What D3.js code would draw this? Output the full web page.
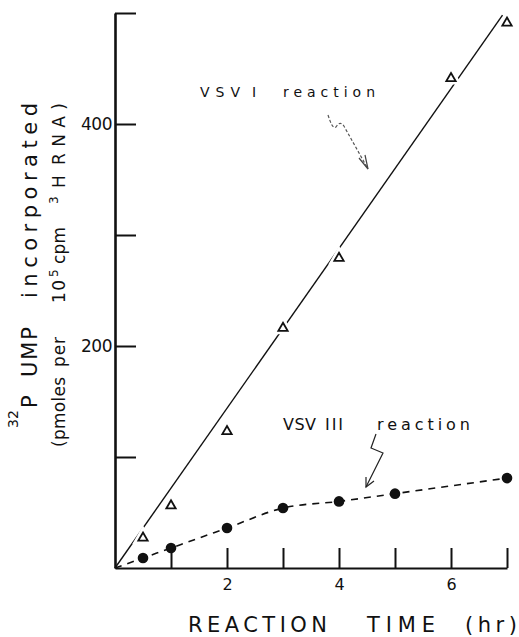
<!DOCTYPE html>
<html>
<head>
<meta charset="utf-8">
<script src="https://cdn.jsdelivr.net/npm/d3@7"></script>
<style>
  body { margin: 0; background: #fff; }
  text { font-family: "DejaVu Sans", sans-serif; fill: #111; }
</style>
</head>
<body>
<div id="canvas"></div>
<script>
const canvas = d3.select("#canvas");

// VSV I (open triangles)
const vsv1Hours = [0.5, 1, 2, 3, 4, 6, 7];
const vsv1Ump = [28, 57, 124, 217, 280, 442, 492];
// fitted straight line drawn through VSV I
const vsv1LineHours = [0, 6.92];
const vsv1LineUmp = [0, 498];

// VSV III (filled circles)
const vsv3Hours = [0.5, 1, 2, 3, 4, 5, 7];
const vsv3Ump = [9, 18, 36, 54, 60, 67, 81];

const xTicks = [1, 2, 3, 4, 5, 6, 7];
const xTickLabels = [2, 4, 6];
const yTicks = [100, 200, 300, 400, 500];
const yTickLabels = [200, 400];

const width = 519;
const height = 637;

const svg = canvas.append("svg")
    .attr("width", width)
    .attr("height", height);

const x = d3.scaleLinear().domain([0, 7]).range([115, 507]);
const y = d3.scaleLinear().domain([0, 500]).range([568, 13]);

// axes
const xAxis = svg.append("g")
    .attr("transform", `translate(0,${y(0)})`)
    .call(d3.axisBottom(x)
        .tickValues(xTicks)
        .tickSize(-20)
        .tickSizeOuter(0)
        .tickPadding(11)
        .tickFormat(d => xTickLabels.includes(d) ? d : ""));
xAxis.select(".domain").attr("stroke-width", 2.2).attr("stroke", "#111");
xAxis.selectAll(".tick line").attr("stroke-width", 2).attr("stroke", "#111");
xAxis.selectAll(".tick text").attr("font-size", 16).attr("font-family", "DejaVu Sans");

const yAxis = svg.append("g")
    .attr("transform", `translate(${x(0)},0)`)
    .call(d3.axisLeft(y)
        .tickValues(yTicks)
        .tickSize(-21)
        .tickSizeOuter(0)
        .tickPadding(3)
        .tickFormat(d => yTickLabels.includes(d) ? d : ""));
yAxis.select(".domain").attr("stroke-width", 2.6).attr("stroke", "#111");
yAxis.selectAll(".tick line").attr("stroke-width", 2).attr("stroke", "#111");
yAxis.selectAll(".tick text").attr("font-size", 17).attr("font-family", "DejaVu Sans")
    .attr("letter-spacing", -0.5);

// VSV I straight line
const line = d3.line().x(d => x(d[0])).y(d => y(d[1]));
svg.append("path")
    .datum(d3.zip(vsv1LineHours, vsv1LineUmp))
    .attr("d", line)
    .attr("fill", "none")
    .attr("stroke", "#111")
    .attr("stroke-width", 1.4);

// VSV III dashed line, from the origin
svg.append("path")
    .datum([[0, 0]].concat(d3.zip(vsv3Hours, vsv3Ump)))
    .attr("d", line.curve(d3.curveMonotoneX))
    .attr("fill", "none")
    .attr("stroke", "#111")
    .attr("stroke-width", 1.6)
    .attr("stroke-dasharray", "7,6");

// triangles with white halo to break the line
const tri = d3.symbol().type(d3.symbolTriangle).size(38);
const triData = d3.zip(vsv1Hours, vsv1Ump);
svg.append("g").selectAll("path.halo").data(triData).enter().append("path")
    .attr("transform", d => `translate(${x(d[0])},${y(d[1]) + 1})`)
    .attr("d", tri)
    .attr("fill", "#fff")
    .attr("stroke", "#fff")
    .attr("stroke-width", 7);
svg.append("g").selectAll("path.tri").data(triData).enter().append("path")
    .attr("transform", d => `translate(${x(d[0])},${y(d[1]) + 1})`)
    .attr("d", tri)
    .attr("fill", "#fff")
    .attr("stroke", "#111")
    .attr("stroke-width", 1.8);

// filled circles
svg.append("g").selectAll("circle").data(d3.zip(vsv3Hours, vsv3Ump)).enter().append("circle")
    .attr("cx", d => x(d[0]))
    .attr("cy", d => y(d[1]))
    .attr("r", 5.3)
    .attr("fill", "#111");

// text piece helper: horizontal, or rotated (reads bottom to top)
function word(txt, bx, by, len, size, rot) {
    const t = svg.append("text")
        .attr("font-size", size)
        .text(txt);
    if (rot) t.attr("transform", `translate(${bx},${by}) rotate(-90)`);
    else t.attr("x", bx).attr("y", by);
    if (len) t.attr("textLength", len).attr("lengthAdjust", "spacing");
    return t;
}

// series labels
word("VSV", 200, 97, 40, 14);
word("I", 252, 97, 0, 14);
word("reaction", 283, 97, 92, 14);

word("VSV", 283, 430, 33, 16);
word("III", 325, 430, 18, 16);
word("reaction", 377, 430, 93, 16);

// squiggle arrows
const arrows = svg.append("g").attr("fill", "none").attr("stroke", "#222").attr("stroke-width", 1.2);
arrows.append("path")
    .attr("d", "M328,115 C331,124 333,129 336,127 C339,122 342,122 345,128 L368,169")
    .attr("stroke", "#555")
    .attr("stroke-dasharray", "3,2");
arrows.append("path")
    .attr("d", "M359,158 L368,169 L365,155")
    .attr("stroke", "#444");
arrows.append("path")
    .attr("d", "M376,434 L371,448 L383,453 L366,487");
arrows.append("path")
    .attr("d", "M366,477 L366,487 L374,481");

// x axis title
word("REACTION", 188, 632, 139, 21);
word("TIME", 367, 632, 68, 21);
word("(hr)", 465, 632, 52, 21);

// y axis title, line 1
word("32", 18, 428, 18, 14, true);
word("P", 37, 408, 18, 21, true);
word("UMP", 37, 377, 50, 21, true);
word("incorporated", 37, 298, 195, 21, true);

// y axis title, line 2
word("(pmoles", 65, 447, 70, 17, true);
word("per", 65, 367, 30, 17, true);
word("10", 65, 303, 23, 17, true);
word("5", 58, 277, 0, 12, true);
word("cpm", 65, 264, 37, 17, true);
word("3", 58, 204, 0, 12, true);
word("H", 65, 188, 16, 17, true);
word("RNA)", 65, 165, 62, 17, true);
</script>
</body>
</html>
